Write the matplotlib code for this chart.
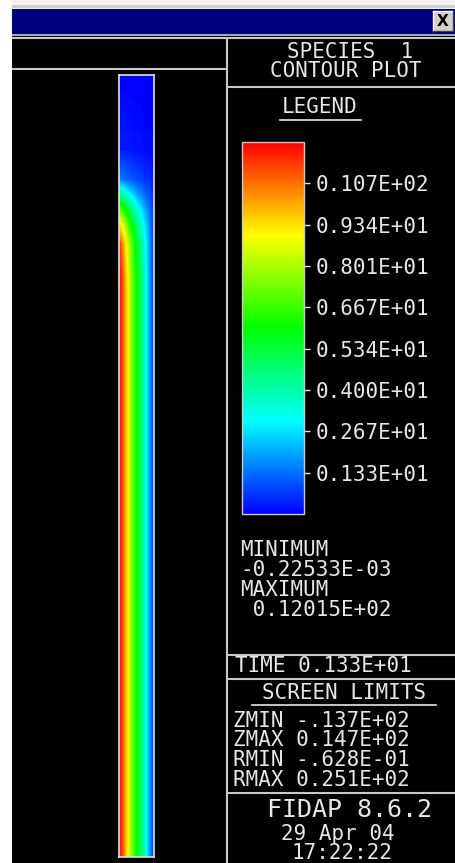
import numpy as np
import matplotlib
matplotlib.use("Agg")
import matplotlib.pyplot as plt
from matplotlib.colors import LinearSegmentedColormap, Normalize
from matplotlib.patches import Rectangle
from matplotlib.cm import ScalarMappable

# ---------------- data ----------------
r_pos = [0.0, 0.125, 0.25, 0.375, 0.5, 0.625, 0.75, 0.875, 1.0]
z_pos = [0.0, 0.738, 0.783, 0.808, 0.827, 0.847, 0.866, 0.904, 1.0]
species = [
    [12.0, 10.7, 8.8, 7.2, 5.9, 4.8, 3.3, 1.7, 0.4],
    [12.0, 10.7, 8.8, 7.2, 5.9, 4.8, 3.3, 1.7, 0.4],
    [11.5, 10.0, 8.3, 6.8, 5.5, 4.4, 3.1, 1.7, 0.5],
    [9.5, 8.5, 7.0, 5.8, 4.6, 3.6, 2.6, 1.5, 0.5],
    [7.5, 6.5, 5.5, 4.5, 3.6, 2.8, 2.0, 1.3, 0.5],
    [4.5, 4.0, 3.2, 2.6, 2.0, 1.6, 1.2, 0.9, 0.4],
    [1.5, 1.4, 1.2, 1.0, 0.9, 0.8, 0.6, 0.5, 0.3],
    [0.3, 0.3, 0.3, 0.2, 0.2, 0.2, 0.1, 0.1, 0.1],
    [0.0, 0.0, 0.0, 0.0, 0.0, 0.0, 0.0, 0.0, 0.0],
]
conc_min = -0.22533e-03
conc_max = 0.12015e+02
legend_levels = [1.335, 2.670, 4.005, 5.340, 6.675, 8.010, 9.345, 10.68]
legend_labels = ["0.133E+01", "0.267E+01", "0.400E+01", "0.534E+01",
                 "0.667E+01", "0.801E+01", "0.934E+01", "0.107E+02"]
title_lines = ["SPECIES  1", "CONTOUR PLOT"]
minmax_lines = ["MINIMUM", "-0.22533E-03", "MAXIMUM", " 0.12015E+02"]
time_text = "TIME 0.133E+01"
limit_names = ["ZMIN", "ZMAX", "RMIN", "RMAX"]
limit_values = ["-.137E+02", "0.147E+02", "-.628E-01", "0.251E+02"]
stamp_lines = ["FIDAP 8.6.2", "29 Apr 04", "17:22:22"]

# ---------------- styling ----------------
plt.rcParams["font.family"] = ["DejaVu Sans Mono", "DejaVu Sans"]
W, H = 456, 863
FG = "#e6e6e6"
LINE = "#c8c8c8"
FS = 15

cmap = LinearSegmentedColormap.from_list(
    "fidap", ["#0000ff", "#00ffff", "#00ff00", "#ffff00", "#ff0000"])
norm = Normalize(vmin=0.0, vmax=conc_max)

fig = plt.figure(figsize=(W / 100, H / 100), dpi=100, facecolor="black")


def px_rect(x0, y0, x1, y1):
    return [x0 / W, 1 - y1 / H, (x1 - x0) / W, (y1 - y0) / H]


bg = fig.add_axes([0, 0, 1, 1], zorder=0)
bg.set_xlim(0, W)
bg.set_ylim(H, 0)
bg.axis("off")

# window chrome
bg.add_patch(Rectangle((0, 0), W, 10, facecolor="#f2f2f2", edgecolor="none"))
bg.add_patch(Rectangle((12, 5), W - 12, 3, facecolor="#cfcfcf", edgecolor="none"))
bg.add_patch(Rectangle((0, 0), 12, H, facecolor="#ffffff", edgecolor="none"))
bg.add_patch(Rectangle((12, 9), W - 12, 25, facecolor="#00007c", edgecolor="none"))
bg.add_patch(Rectangle((12, 34), W - 12, 2, facecolor="#a8a8a8", edgecolor="none"))
# close button
bg.add_patch(Rectangle((433, 11), 20, 20, facecolor="#d4d0c8", edgecolor="none"))
bg.plot([433, 453], [11, 11], color="white", lw=1)
bg.plot([433, 433], [11, 31], color="white", lw=1)
bg.plot([433, 453], [31, 31], color="#404040", lw=1)
bg.plot([453, 453], [11, 31], color="#404040", lw=1)
bg.text(443, 21.5, "X", ha="center", va="center", color="black",
        fontsize=11, fontweight="bold", family="DejaVu Sans")

# panel frame lines
seg = [((12, 38), (456, 38)), ((12, 69), (227, 69)), ((227, 38), (227, 863)),
       ((227, 87), (456, 87)), ((227, 655), (456, 655)),
       ((227, 679), (456, 679)), ((227, 793), (456, 793))]
for (xa, ya), (xb, yb) in seg:
    bg.plot([xa, xb], [ya, yb], color=LINE, lw=1.5, solid_capstyle="butt")

# title
bg.text(350, 52, title_lines[0], ha="center", va="center", color=FG, fontsize=FS)
bg.text(346, 71, title_lines[1], ha="center", va="center", color=FG, fontsize=FS)

# legend heading
bg.text(320, 107, "LEGEND", ha="center", va="center", color=FG, fontsize=FS)
bg.plot([280, 361], [120, 120], color=FG, lw=1.2)

# min/max block
for i, s in enumerate(minmax_lines):
    bg.text(240, 550 + 20 * i, s, ha="left", va="center", color=FG, fontsize=FS)

# time
bg.text(235, 666, time_text, ha="left", va="center", color=FG, fontsize=FS)

# screen limits
bg.text(344, 693, "SCREEN LIMITS", ha="center", va="center", color=FG, fontsize=FS)
bg.plot([252, 436], [705, 705], color=FG, lw=1.2)
for yy, n, v in zip([721, 740, 760, 780], limit_names, limit_values):
    bg.text(233, yy, f"{n} {v}", ha="left", va="center", color=FG, fontsize=FS)

# stamp
bg.text(350, 810, stamp_lines[0], ha="center", va="center", color=FG, fontsize=18)
bg.text(338, 834, stamp_lines[1], ha="center", va="center", color=FG, fontsize=FS)
bg.text(342, 853, stamp_lines[2], ha="center", va="center", color=FG, fontsize=FS)

# ---------------- contour field ----------------
ax = fig.add_axes(px_rect(119, 75, 154, 857), zorder=2)
ax.contourf(r_pos, z_pos, np.array(species), levels=np.linspace(0, conc_max, 161),
            cmap=cmap, norm=norm, antialiased=False)
ax.set_xlim(0, 1)
ax.set_ylim(0, 1)
ax.set_xticks([])
ax.set_yticks([])
for sp in ax.spines.values():
    sp.set_color("#e0e0e0")
    sp.set_linewidth(1.2)

# ---------------- colour legend ----------------
cax = fig.add_axes(px_rect(242, 142, 304, 514), zorder=2)
sm = ScalarMappable(norm=norm, cmap=cmap)
cb = fig.colorbar(sm, cax=cax, ticks=legend_levels)
cb.set_ticklabels(legend_labels)
cb.outline.set_edgecolor(LINE)
cb.outline.set_linewidth(1.0)
cax.tick_params(axis="y", colors=FG, labelcolor=FG, length=4.5, width=1.0,
                pad=4, labelsize=FS, direction="out")

fig.savefig("out.png", dpi=100, facecolor="black")
